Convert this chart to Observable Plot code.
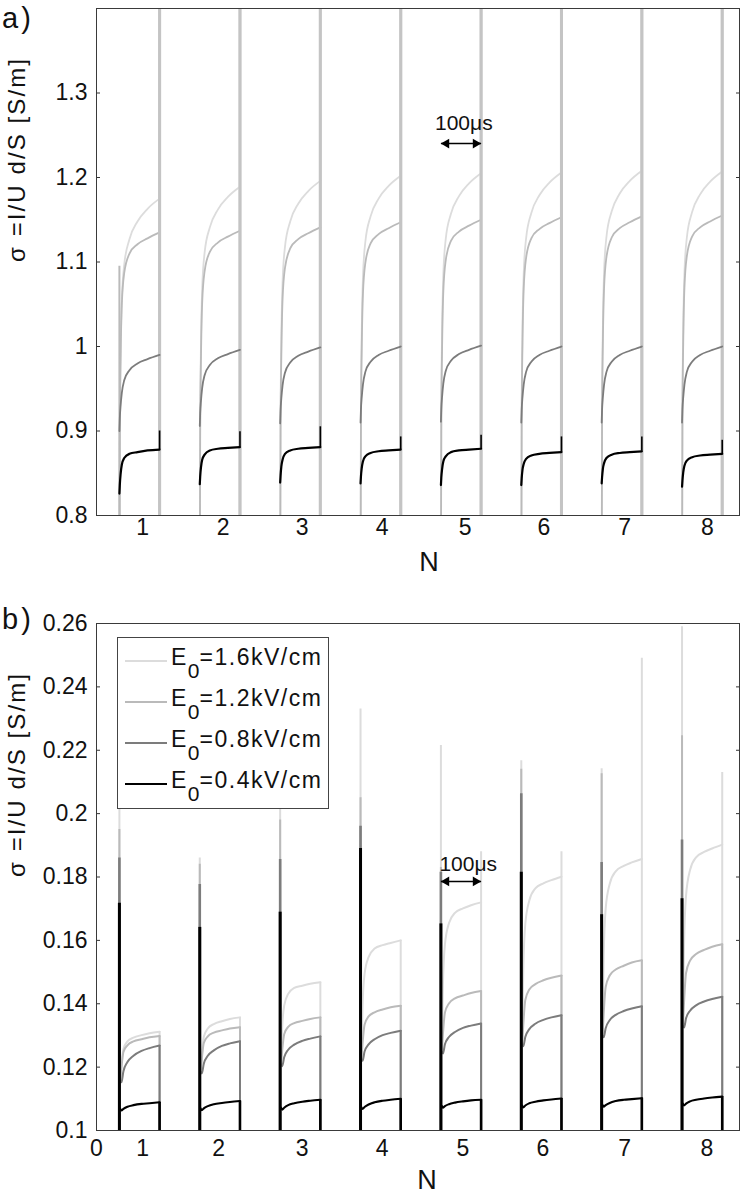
<!DOCTYPE html>
<html><head><meta charset="utf-8">
<script src="https://cdn.jsdelivr.net/npm/d3@7"></script>
<script src="https://cdn.jsdelivr.net/npm/@observablehq/plot@0.6"></script>
<style>
body{margin:0;background:#fff;font-family:"Liberation Sans",Arial,Helvetica,sans-serif;color:#111;}
#wrap{position:relative;width:742px;height:1200px;overflow:hidden;}
#wrap svg{display:block;}
.plab{position:absolute;left:2px;font-size:29px;line-height:29px;letter-spacing:3px;}
#legend{position:absolute;left:117px;top:637px;width:210px;height:170px;border:1px solid #444;background:#fff;}
#legend .ln{position:absolute;left:7px;width:42px;height:0;border-top:2px solid #000;}
#legend .tx{position:absolute;left:53px;font-size:23px;line-height:22px;letter-spacing:1.5px;white-space:nowrap;}
#legend .tx span{font-size:21px;vertical-align:-13px;letter-spacing:0;}
</style></head>
<body><div id="wrap"><div id="a"></div><div id="b"></div></div>
<script>
// ---------------- data ----------------
const seriesNames = ["1.6", "1.2", "0.8", "0.4"];           // E0 in kV/cm
const seriesColors = ["#dcdcdc", "#bababa", "#7c7c7c", "#000000"];
const pulseStart = [57, 257, 457, 657, 857, 1057, 1257, 1457]; // µs
const pulseWidth = 100;                                         // µs

// x tick labels (pulse number N)
const tickPosA = [115, 315, 512, 711, 917, 1113, 1314, 1520];
const tickLabA = ["1", "2", "3", "4", "5", "6", "7", "8"];
const tickPosB = [0, 115, 304, 512, 711, 912, 1111, 1314, 1519];
const tickLabB = ["0", "1", "2", "3", "4", "5", "6", "7", "8"];
const yTicksA = [0.8, 0.9, 1, 1.1, 1.2, 1.3];
const yTicksB = [0.1, 0.12, 0.14, 0.16, 0.18, 0.2, 0.22, 0.24, 0.26];

// ---- panel a: conductivity within each pulse, sampled at tA (µs after pulse start)
const tA = [0, 1, 3, 6, 12, 25, 45, 70, 100];
const a16 = [
 [0.70,0.895,0.990,1.055,1.097,1.127,1.148,1.163,1.175],
 [0.70,0.909,1.004,1.069,1.111,1.141,1.162,1.177,1.189],
 [0.70,0.916,1.011,1.076,1.118,1.148,1.169,1.184,1.196],
 [0.70,0.922,1.017,1.082,1.124,1.154,1.175,1.190,1.202],
 [0.70,0.925,1.020,1.085,1.127,1.157,1.178,1.193,1.205],
 [0.70,0.926,1.021,1.086,1.128,1.158,1.179,1.194,1.206],
 [0.70,0.928,1.023,1.088,1.130,1.160,1.181,1.196,1.208],
 [0.70,0.927,1.022,1.087,1.129,1.159,1.180,1.195,1.207]];
const a12 = [
 [0.70,0.895,0.985,1.050,1.087,1.110,1.121,1.128,1.135],
 [0.70,0.897,0.987,1.052,1.089,1.112,1.123,1.130,1.137],
 [0.70,0.901,0.991,1.056,1.093,1.116,1.127,1.134,1.141],
 [0.70,0.907,0.997,1.062,1.099,1.122,1.133,1.140,1.147],
 [0.70,0.910,1.000,1.065,1.102,1.125,1.136,1.143,1.150],
 [0.70,0.913,1.003,1.068,1.105,1.128,1.139,1.146,1.153],
 [0.70,0.914,1.004,1.069,1.106,1.129,1.140,1.147,1.154],
 [0.70,0.915,1.005,1.070,1.107,1.130,1.141,1.148,1.155]];
const a08 = [
 [0.900,0.915,0.930,0.945,0.960,0.972,0.980,0.985,0.990],
 [0.906,0.921,0.936,0.951,0.966,0.978,0.986,0.991,0.996],
 [0.909,0.924,0.939,0.954,0.969,0.981,0.989,0.994,0.999],
 [0.910,0.925,0.940,0.955,0.970,0.982,0.990,0.995,1.000],
 [0.911,0.926,0.941,0.956,0.971,0.983,0.991,0.996,1.001],
 [0.910,0.925,0.940,0.955,0.970,0.982,0.990,0.995,1.000],
 [0.910,0.925,0.940,0.955,0.970,0.982,0.990,0.995,1.000],
 [0.910,0.925,0.940,0.955,0.970,0.982,0.990,0.995,1.000]];
const a04 = [
 [0.826,0.836,0.849,0.860,0.868,0.873,0.875,0.877,0.878],
 [0.837,0.846,0.857,0.866,0.872,0.877,0.879,0.880,0.881],
 [0.839,0.847,0.858,0.866,0.873,0.877,0.879,0.880,0.881],
 [0.838,0.846,0.856,0.864,0.870,0.874,0.876,0.877,0.878],
 [0.836,0.845,0.855,0.864,0.870,0.875,0.877,0.878,0.879],
 [0.836,0.844,0.854,0.861,0.867,0.871,0.873,0.874,0.875],
 [0.838,0.845,0.855,0.862,0.868,0.872,0.874,0.875,0.876],
 [0.834,0.841,0.851,0.859,0.865,0.869,0.871,0.872,0.873]];
const aStartTop12 = [1.095, null, null, null, null, null, null, null]; // spike at pulse start
const aEndJump04 = [0.900, 0.899, 0.905, 0.893, 0.895, 0.893, 0.893, 0.889];
const aSpikeLow = 0.70, aSpikeHigh = 1.50;   // off-scale transient at pulse end

// ---- panel b: sampled at tB (µs after pulse start)
const tB = [2, 5, 10, 20, 35, 55, 75, 100];
const b16 = [
 [0.1155,0.1202,0.1257,0.1281,0.1293,0.1301,0.1307,0.1312],
 [0.1182,0.1235,0.1296,0.1322,0.1336,0.1345,0.1352,0.1357],
 [0.1205,0.1323,0.1394,0.1431,0.1450,0.1457,0.1463,0.1468],
 [0.1222,0.1392,0.1494,0.1547,0.1574,0.1585,0.1592,0.1600],
 [0.1245,0.1459,0.1587,0.1654,0.1687,0.1701,0.1711,0.1720],
 [0.1268,0.1508,0.1652,0.1726,0.1764,0.1780,0.1790,0.1801],
 [0.1296,0.1548,0.1700,0.1778,0.1818,0.1835,0.1846,0.1857],
 [0.1327,0.1586,0.1741,0.1822,0.1862,0.1879,0.1890,0.1902]];
const b12 = [
 [0.1155,0.1198,0.1248,0.1269,0.1281,0.1288,0.1294,0.1298],
 [0.1182,0.1225,0.1276,0.1297,0.1309,0.1316,0.1322,0.1326],
 [0.1205,0.1251,0.1304,0.1327,0.1339,0.1346,0.1352,0.1357],
 [0.1222,0.1274,0.1334,0.1360,0.1373,0.1382,0.1389,0.1394],
 [0.1245,0.1304,0.1372,0.1401,0.1417,0.1426,0.1434,0.1440],
 [0.1268,0.1334,0.1412,0.1445,0.1462,0.1474,0.1482,0.1489],
 [0.1296,0.1368,0.1453,0.1489,0.1508,0.1520,0.1530,0.1537],
 [0.1327,0.1405,0.1497,0.1536,0.1557,0.1570,0.1580,0.1588]];
const b08 = [
 [0.1158,0.1152,0.1187,0.1216,0.1236,0.1251,0.1260,0.1268],
 [0.1185,0.1180,0.1211,0.1236,0.1253,0.1267,0.1275,0.1282],
 [0.1208,0.1203,0.1231,0.1255,0.1271,0.1283,0.1290,0.1297],
 [0.1225,0.1220,0.1249,0.1272,0.1288,0.1301,0.1308,0.1315],
 [0.1248,0.1243,0.1272,0.1295,0.1311,0.1324,0.1331,0.1338],
 [0.1271,0.1266,0.1295,0.1320,0.1337,0.1349,0.1357,0.1364],
 [0.1299,0.1294,0.1323,0.1348,0.1365,0.1377,0.1385,0.1392],
 [0.1330,0.1325,0.1354,0.1378,0.1395,0.1407,0.1415,0.1422]];
const b04 = [
 [0.1069,0.1063,0.1068,0.1075,0.1080,0.1084,0.1086,0.1089],
 [0.1070,0.1064,0.1070,0.1077,0.1083,0.1087,0.1090,0.1093],
 [0.1072,0.1066,0.1072,0.1080,0.1086,0.1091,0.1094,0.1097],
 [0.1074,0.1068,0.1074,0.1082,0.1089,0.1094,0.1097,0.1100],
 [0.1078,0.1072,0.1077,0.1083,0.1088,0.1092,0.1095,0.1097],
 [0.1079,0.1073,0.1079,0.1086,0.1091,0.1095,0.1098,0.1101],
 [0.1081,0.1075,0.1080,0.1087,0.1093,0.1097,0.1099,0.1102],
 [0.1085,0.1079,0.1085,0.1092,0.1097,0.1101,0.1104,0.1107]];
const bStartTop16 = [0.210, 0.186, 0.215, 0.233, 0.2215, 0.2167, 0.2142, 0.259];
const bStartTop12 = [0.195, 0.184, 0.198, 0.205, 0.183, 0.214, 0.2126, 0.2246];
const bStartTop08 = [0.186, 0.1776, 0.1855, 0.196, 0.1815, 0.2063, 0.1846, 0.1917];
const bStartTop04 = [0.1717, 0.1641, 0.1689, 0.189, 0.1652, 0.1815, 0.1681, 0.1731];
const bEndTop16 = [null, null, null, null, 0.188, 0.188, 0.249, 0.213];
const bFloor = 0.09;

// ---- annotation (pulse-width marker) ----
const annA = {t: 914, v: 1.2645, arrowV: 1.2402, label: "100μs"};
const annB = {t: 925, v: 0.1841, arrowV: 0.1786, label: "100μs"};
const yLabel = "σ =I/U d/S [S/m]";
const xLabel = "N";

// ---------------- helpers ----------------
const FONT = '"Liberation Sans", Arial, Helvetica, sans-serif';
function curveRows(curves, tOff) {
  const rows = [];
  curves.forEach((vals, p) => vals.forEach((v, i) => rows.push({p, t: pulseStart[p] + tOff[i], v})));
  return rows;
}
function ruleRows(los, his, atEnd) {
  const rows = [];
  pulseStart.forEach((t0, p) => {
    const lo = Array.isArray(los) ? los[p] : los;
    const hi = Array.isArray(his) ? his[p] : his;
    if (lo == null || hi == null) return;
    rows.push({p, t: t0 + (atEnd ? pulseWidth : 0), lo, hi});
  });
  return rows;
}
const lastOf = curves => curves.map(c => c[c.length - 1]);

function annotationMarks(ann) {
  const t1 = pulseStart[4], t2 = pulseStart[4] + pulseWidth;
  return [
    Plot.text([ann], {x: "t", y: "v", text: "label", fontSize: 21, fill: "#111", lineAnchor: "middle"}),
    Plot.link([ann], {x1: () => t1, x2: () => t2, y1: "arrowV", y2: "arrowV", stroke: "#000", strokeWidth: 1.5}),
    Plot.dot([ann], {x: () => t2, y: "arrowV", symbol: "triangle", r: 3.6, rotate: 90, dx: -5.5, fill: "#000", stroke: "none"}),
    Plot.dot([ann], {x: () => t1, y: "arrowV", symbol: "triangle", r: 3.6, rotate: -90, dx: 5.5, fill: "#000", stroke: "none"})
  ];
}
function frameMarks(ticksX, labsX, padX, ticksY, fmtY) {
  return [
    Plot.axisX(ticksX, {tickSize: 0, tickPadding: padX, tickFormat: d => labsX[ticksX.indexOf(d)], label: null, fontSize: 23, fill: "#111"}),
    Plot.axisY(ticksY, {anchor: "left", tickSize: 0, tickPadding: 9, tickFormat: fmtY, label: null, fontSize: 23, fill: "#111"}),
    Plot.axisY(ticksY, {anchor: "left", tickSize: 4, dx: 4, fill: "none", stroke: "#333", label: null}),
    Plot.axisY(ticksY, {anchor: "right", tickSize: 4, dx: -4, fill: "none", stroke: "#333", label: null}),
    Plot.frame({stroke: "#3a3a3a", strokeWidth: 1})
  ];
}
const fmt = d3.format("~g");

// ---------------- panel a ----------------
const lineOpt = (c, w) => ({x: "t", y: "v", z: "p", stroke: c, strokeWidth: w, curve: "monotone-x", clip: true, strokeLinejoin: "round"});
const ruleOpt = (c, w) => ({x: "t", y1: "lo", y2: "hi", stroke: c, strokeWidth: w, clip: true});

const marksA = [
  // 1.6 kV/cm
  Plot.line(curveRows(a16, tA), lineOpt(seriesColors[0], 1.8)),
  Plot.ruleX(ruleRows(aSpikeLow, aSpikeHigh, true), ruleOpt(seriesColors[0], 3)),
  // 1.2 kV/cm
  Plot.ruleX(ruleRows(aSpikeLow, aStartTop12, false), ruleOpt(seriesColors[1], 2)),
  Plot.line(curveRows(a12, tA), lineOpt(seriesColors[1], 1.8)),
  Plot.ruleX(ruleRows(aSpikeLow, aSpikeHigh, true), ruleOpt("#c4c4c4", 3)),
  // 0.8 kV/cm
  Plot.line(curveRows(a08, tA), lineOpt(seriesColors[2], 1.8)),
  // 0.4 kV/cm
  Plot.line(curveRows(a04, tA), lineOpt(seriesColors[3], 2.2)),
  Plot.ruleX(ruleRows(lastOf(a04), aEndJump04, true), ruleOpt(seriesColors[3], 1.6)),
  ...annotationMarks(annA),
  ...frameMarks(tickPosA, tickLabA, 3, yTicksA, fmt),
  Plot.text([yLabel], {frameAnchor: "left", dx: -79, rotate: -90, text: d => d, fontSize: 24, fill: "#111"}),
  Plot.text([xLabel], {frameAnchor: "bottom", dx: 11, dy: 55, text: d => d, fontSize: 27, fill: "#111"})
];

const chartA = Plot.plot({
  width: 742, height: 600,
  marginLeft: 96, marginRight: 3, marginTop: 8, marginBottom: 85,
  style: {fontFamily: FONT, fontSize: "22px", color: "#111", background: "white", overflow: "visible"},
  x: {domain: [0, 1600]},
  y: {domain: [0.8, 1.4]},
  marks: marksA
});

// ---------------- panel b ----------------
const bCurves = [b16, b12, b08, b04];
const bStarts = [bStartTop16, bStartTop12, bStartTop08, bStartTop04];
const startW = [2, 2, 2.6, 3];
const lineW = [2, 2, 2, 2.1];
const marksB = [];
bCurves.forEach((curves, s) => {
  const ends = lastOf(curves).map((v, p) => s === 0 && bEndTop16[p] != null ? bEndTop16[p] : v);
  marksB.push(
    Plot.ruleX(ruleRows(bFloor, bStarts[s], false), ruleOpt(seriesColors[s], startW[s])),
    Plot.line(curveRows(curves, tB), lineOpt(seriesColors[s], lineW[s])),
    Plot.ruleX(ruleRows(bFloor, ends, true), ruleOpt(seriesColors[s], s === 3 ? 2.6 : 2))
  );
});
marksB.push(
  ...annotationMarks(annB),
  ...frameMarks(tickPosB, tickLabB, 9, yTicksB, fmt),
  Plot.text([yLabel], {frameAnchor: "left", dx: -79, rotate: -90, text: d => d, fontSize: 24, fill: "#111"}),
  Plot.text([xLabel], {frameAnchor: "bottom", dx: 9, dy: 58, text: d => d, fontSize: 27, fill: "#111"})
);

const chartB = Plot.plot({
  width: 742, height: 600,
  marginLeft: 96, marginRight: 3, marginTop: 23, marginBottom: 70,
  style: {fontFamily: FONT, fontSize: "22px", color: "#111", background: "white", overflow: "visible"},
  x: {domain: [0, 1600]},
  y: {domain: [0.1, 0.26]},
  marks: marksB
});

document.getElementById("a").append(chartA);
document.getElementById("b").append(chartB);

// stretch the y-axis titles to the reference length
for (const svg of [chartA, chartB]) {
  for (const el of svg.querySelectorAll("text")) {
    if (el.textContent === yLabel) { el.setAttribute("textLength", 203); el.setAttribute("lengthAdjust", "spacing"); }
  }
}

// panel labels
const wrap = document.getElementById("wrap");
[["a)", 4], ["b)", 605]].forEach(([t, top]) => {
  const d = document.createElement("div");
  d.className = "plab"; d.style.top = top + "px"; d.textContent = t; wrap.append(d);
});

// legend
const legend = document.createElement("div");
legend.id = "legend";
const baselines = [27, 68, 109, 150];
seriesNames.forEach((name, i) => {
  const ln = document.createElement("div");
  ln.className = "ln"; ln.style.top = (baselines[i] - 5) + "px"; ln.style.borderTopColor = seriesColors[i];
  const tx = document.createElement("div");
  tx.className = "tx"; tx.style.top = (baselines[i] - 19.5) + "px";
  tx.innerHTML = `E<span>0</span>=${name}kV/cm`;
  legend.append(ln, tx);
});
wrap.append(legend);
</script></body></html>
